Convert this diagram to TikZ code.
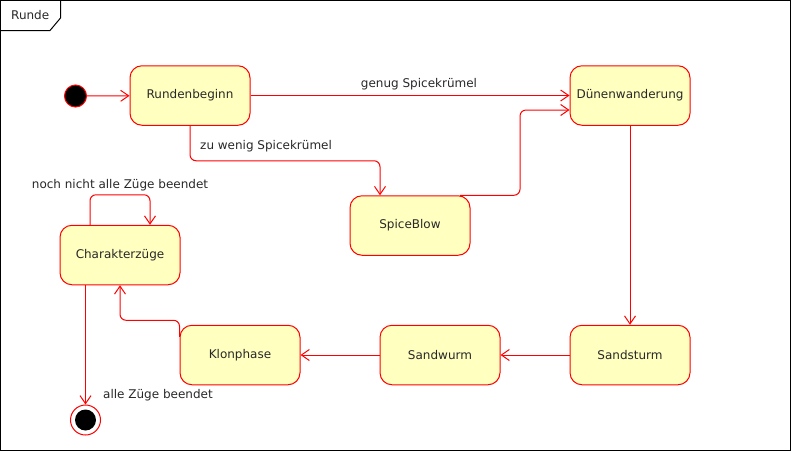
\documentclass[tikz,border=0pt]{standalone}
\usepackage{fontspec}
\setmainfont{DejaVu Sans}
\usetikzlibrary{arrows.meta}
\definecolor{stfill}{RGB}{255,255,192}
\definecolor{txt}{RGB}{40,40,40}
\tikzset{
  statebox/.style={draw=red, fill=stfill, line width=1pt, rounded corners=12pt,
    minimum width=120pt, minimum height=59.5pt, inner sep=0pt, text=txt,
    font=\fontsize{12}{14}\selectfont},
  arr/.style={draw=red, line width=1pt, -{Straight Barb[length=8pt,width=11pt]}},
  lbl/.style={text=txt, font=\fontsize{12}{14}\selectfont, inner sep=0pt},
}
\begin{document}
\begin{tikzpicture}[x=1pt,y=-1pt]
\useasboundingbox (0,0) rectangle (791,451);
% frame
\draw[black, line width=1pt] (0.5,0.5) rectangle (790.5,450.5);
\draw[black, line width=1pt] (0.5,30.5) -- (50,30.5) -- (60.5,18) -- (60.5,0.5);
\node[lbl, anchor=base west] (fr) at (11,19.5) {Runde};
% states
\node[circle, fill=black, draw=red, line width=1pt, minimum size=22pt, inner sep=0pt] (st) at (75.5,96) {};
\node[statebox] (rb) at (190,95.5) {Rundenbeginn};
\node[statebox] (dw) at (630,95.5) {Dünenwanderung};
\node[statebox] (sb) at (410,225.5) {SpiceBlow};
\node[statebox] (cz) at (120,255) {Charakterzüge};
\node[statebox] (kp) at (240,355) {Klonphase};
\node[statebox] (sw) at (440,355) {Sandwurm};
\node[statebox] (ss) at (630,355) {Sandsturm};
\node[circle, draw=red, fill=white, line width=1pt, minimum size=30pt, inner sep=0pt] (en) at (85.5,420) {};
\node[circle, fill=black, minimum size=21pt, inner sep=0pt] (enin) at (en.center) {};
% transitions
\draw[arr] (st) -- (rb);
\draw[arr] (rb) -- (dw);
\node[lbl, anchor=base] (l1) at (419,87.5) {genug Spicekrümel};
\draw[arr, rounded corners=6pt] (rb.south) -- ++(0,35) -| ([xshift=-30pt]sb.north);
\node[lbl, anchor=base west] (l2) at (200,149) {zu wenig Spicekrümel};
\draw[arr, rounded corners=6pt] ([xshift=50pt]sb.north) -- ++(60,0) |- ([yshift=-14.5pt]dw.west);
\draw[arr] (dw) -- (ss);
\draw[arr] (ss) -- (sw);
\draw[arr] (sw) -- (kp);
\draw[arr, rounded corners=6pt] ([yshift=-12pt]kp.north west) |- ([yshift=-35pt]cz.south) -- (cz.south);
\draw[arr, rounded corners=6pt] ([xshift=-30pt]cz.north) -- ++(0,-30) -| ([xshift=30pt]cz.north);
\node[lbl, anchor=base] (l3) at (120,188.5) {noch nicht alle Züge beendet};
\draw[arr] (cz.south -| en.north) -- (en.north);
\node[lbl, anchor=base west] (l4) at (103,398.5) {alle Züge beendet};
\end{tikzpicture}
\end{document}
